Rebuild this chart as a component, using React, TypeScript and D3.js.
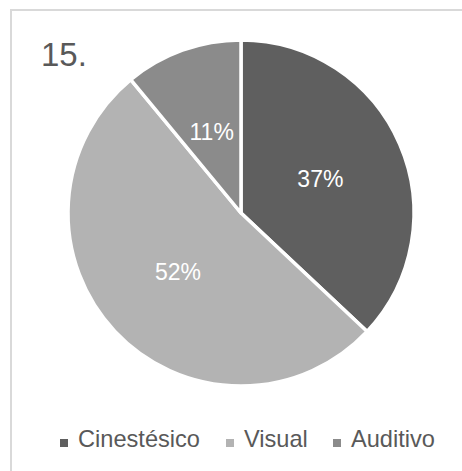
import React from "react";
import * as d3 from "d3";

const categories = ["Cinestésico", "Visual", "Auditivo"];
const values = [37, 52, 11];
const colors = ["#5f5f5f", "#b3b3b3", "#8b8b8b"];
const title = "15.";

export default function App() {
  const W = 462, H = 471;
  const cx = 241, cy = 213, r = 173;
  const pie = d3.pie<number>().sort(null).value((d) => d);
  const arcs = pie(values);
  const arc = d3.arc<d3.PieArcDatum<number>>().innerRadius(0).outerRadius(r);
  const total = d3.sum(values);
  const legendX = [60, 226, 333];
  const font = "'Liberation Sans', Arial, sans-serif";
  return (
    <svg width={W} height={H} style={{ position: "absolute", left: 0, top: 0 }} fontFamily={font}>
      <rect x={0} y={0} width={W} height={H} fill="#fff" />
      <rect x={11} y={10} width={W + 20} height={H + 20} fill="#fff" stroke="#d9d9d9" strokeWidth={2} />
      <text x={41} y={66} fontSize={33} fill="#595959">{title}</text>
      <g transform={`translate(${cx},${cy})`}>
        {arcs.map((a, i) => (
          <path key={i} d={arc(a) || ""} fill={colors[i]} stroke="#fff" strokeWidth={3.5} strokeLinejoin="round" />
        ))}
        {arcs.map((a, i) => {
          const [x, y] = arc.centroid(a);
          return (
            <text key={i} x={x} y={y + 8} textAnchor="middle" fontSize={23} fill="#fff">
              {Math.round((a.data / total) * 100)}%
            </text>
          );
        })}
      </g>
      {categories.map((c, i) => (
        <g key={c}>
          <rect x={legendX[i]} y={439} width={8} height={8} fill={colors[i]} />
          <text x={legendX[i] + 18} y={447} fontSize={23.6} fill="#595959">{c}</text>
        </g>
      ))}
    </svg>
  );
}
